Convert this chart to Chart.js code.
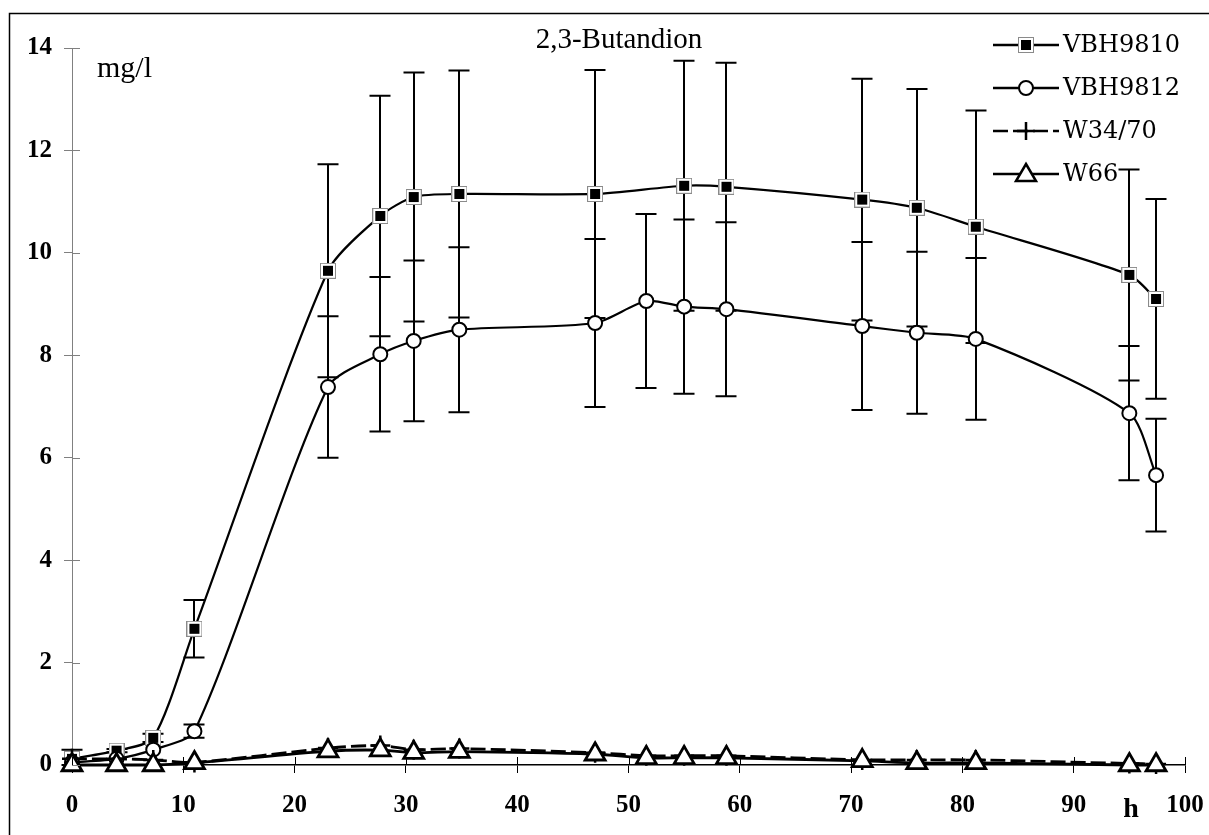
<!DOCTYPE html>
<html>
<head>
<meta charset="utf-8">
<script src="https://cdn.jsdelivr.net/npm/chart.js@4/dist/chart.umd.min.js"></script>
<style>
html,body{margin:0;padding:0;background:#fff;}
#wrap{width:1209px;height:835px;position:relative;}
</style>
</head>
<body>
<div id="wrap"><canvas id="c" width="1209" height="835"></canvas></div>
<script>
// ---- data ----
const hours    = [0, 4, 7.3, 11, 23, 27.7, 30.7, 34.8, 47, 51.6, 55, 58.8, 71, 75.9, 81.2, 95, 97.4];
const vbh9810  = [0.12, 0.28, 0.53, 2.66, 9.65, 10.72, 11.09, 11.15, 11.15, null, 11.31, 11.29, 11.04, 10.88, 10.51, 9.57, 9.1];
const vbh9810Sd= [0.18, 0.03, 0.08, 0.56, 2.08, 2.35, 2.43, 2.41, 2.42, null, 2.44, 2.42, 2.36, 2.32, 2.27, 2.06, 1.95];
const vbh9812  = [0.05, 0.12, 0.3, 0.66, 7.38, 8.02, 8.28, 8.5, 8.63, 9.06, 8.95, 8.9, 8.57, 8.44, 8.32, 6.87, 5.66];
const vbh9812Sd= [0, 0, 0, 0.13, 1.38, 1.51, 1.57, 1.61, 1.64, 1.7, 1.7, 1.7, 1.64, 1.58, 1.58, 1.31, 1.1];
const w3470    = [0.12, 0.12, 0.1, 0.05, 0.33, 0.38, 0.3, 0.32, 0.24, 0.18, 0.18, 0.18, 0.1, 0.1, 0.1, 0.03, 0.02];
const w66      = [0, 0, 0, 0.04, 0.27, 0.29, 0.24, 0.26, 0.21, 0.14, 0.14, 0.14, 0.08, 0.04, 0.04, 0, 0];
const seriesNames = ['VBH9810', 'VBH9812', 'W34/70', 'W66'];
const yTicks = [0, 2, 4, 6, 8, 10, 12, 14];
const xTicks = [0, 10, 20, 30, 40, 50, 60, 70, 80, 90, 100];
const chartTitle = '2,3-Butandion';
const yUnit = 'mg/l';
const xUnit = 'h';

// ---- square marker image ----
const sq = document.createElement('canvas');
sq.width = 16; sq.height = 16;
(function(){
  const g = sq.getContext('2d');
  g.fillStyle = '#8a8a8a'; g.fillRect(0,0,16,16);
  g.fillStyle = '#ffffff'; g.fillRect(1,1,14,14);
  g.fillStyle = '#000000'; g.fillRect(3,3,10,10);
})();

const pts = arr => hours.map((h,i) => ({x: h, y: arr[i]}));

const SERIF = '"Liberation Serif", "DejaVu Serif", serif';
const LEG = '"DejaVu Serif", serif';

const decor = {
  id: 'decor',
  beforeDatasetsDraw(chart) {
    const {ctx, scales: {x, y}} = chart;
    ctx.save();
    ctx.strokeStyle = '#000';
    ctx.lineWidth = 2;
    const sets = [[vbh9810, vbh9810Sd], [vbh9812, vbh9812Sd]];
    sets.forEach(([vals, sds]) => {
      hours.forEach((h, i) => {
        if (vals[i] == null || !sds[i]) return;
        const px = Math.round(x.getPixelForValue(h));
        const yt = y.getPixelForValue(vals[i] + sds[i]);
        const yb = y.getPixelForValue(Math.max(0, vals[i] - sds[i]));
        ctx.beginPath();
        ctx.moveTo(px, yt); ctx.lineTo(px, yb);
        ctx.moveTo(px - 10.5, yt); ctx.lineTo(px + 10.5, yt);
        ctx.moveTo(px - 10.5, yb); ctx.lineTo(px + 10.5, yb);
        ctx.stroke();
      });
    });
    ctx.restore();
  },
  afterDraw(chart) {
    const {ctx, scales: {x, y}, chartArea} = chart;
    ctx.save();
    // outer frame
    ctx.strokeStyle = '#000';
    ctx.lineWidth = 1.5;
    ctx.beginPath();
    ctx.moveTo(9.5, 835); ctx.lineTo(9.5, 13.5); ctx.lineTo(1209, 13.5);
    ctx.stroke();
    // inner halves of the axis ticks
    ctx.lineWidth = 1;
    ctx.strokeStyle = '#808080';
    yTicks.forEach(v => {
      const py = Math.round(y.getPixelForValue(v)) + 0.5;
      ctx.beginPath(); ctx.moveTo(chartArea.left, py); ctx.lineTo(chartArea.left + 8, py); ctx.stroke();
    });
    ctx.strokeStyle = '#000';
    xTicks.forEach(v => {
      const px = Math.round(x.getPixelForValue(v)) + 0.5;
      ctx.beginPath(); ctx.moveTo(px, chartArea.bottom); ctx.lineTo(px, chartArea.bottom - 8); ctx.stroke();
    });
    // texts
    ctx.fillStyle = '#000';
    ctx.textBaseline = 'alphabetic';
    ctx.font = '29px ' + SERIF;
    ctx.textAlign = 'center';
    ctx.fillText(chartTitle, 619, 48);
    ctx.textAlign = 'left';
    ctx.font = '30px ' + SERIF;
    ctx.fillText(yUnit, 97, 77);
    ctx.textAlign = 'center';
    ctx.font = 'bold 28px ' + SERIF;
    ctx.fillText(xUnit, 1131, 817);
    // legend
    const legY = [45, 88, 131, 174];
    chart.data.datasets.forEach((ds, i) => {
      const ly = legY[i];
      ctx.strokeStyle = '#000';
      ctx.lineWidth = 2.5;
      ctx.setLineDash(ds.borderDash || []);
      ctx.beginPath(); ctx.moveTo(993, ly); ctx.lineTo(1059, ly); ctx.stroke();
      ctx.setLineDash([]);
      const mx = 1026;
      if (ds.pointStyle === sq) {
        ctx.drawImage(sq, mx - 8, ly - 8);
      } else if (ds.pointStyle === 'circle') {
        ctx.lineWidth = 2; ctx.fillStyle = '#fff';
        ctx.beginPath(); ctx.arc(mx, ly, 7, 0, Math.PI * 2); ctx.fill(); ctx.stroke();
      } else if (ds.pointStyle === 'cross') {
        ctx.lineWidth = 2.5;
        ctx.beginPath(); ctx.moveTo(mx - 9, ly); ctx.lineTo(mx + 9, ly);
        ctx.moveTo(mx, ly - 9); ctx.lineTo(mx, ly + 9); ctx.stroke();
      } else if (ds.pointStyle === 'triangle') {
        ctx.lineWidth = 2.5; ctx.fillStyle = '#fff';
        ctx.beginPath(); ctx.moveTo(mx, ly - 10); ctx.lineTo(mx + 10, ly + 7); ctx.lineTo(mx - 10, ly + 7); ctx.closePath();
        ctx.fill(); ctx.stroke();
      }
      ctx.fillStyle = '#000';
      ctx.font = '24px ' + LEG;
      ctx.textAlign = 'left';
      ctx.textBaseline = 'middle';
      ctx.fillText(ds.label, 1063, ly + 1);
    });
    ctx.restore();
  }
};

new Chart(document.getElementById('c'), {
  type: 'line',
  data: {
    datasets: [
      { label: seriesNames[0], data: pts(vbh9810), borderColor: '#000', borderWidth: 2.2, tension: 0.25,
        pointStyle: sq, pointRadius: 8, spanGaps: true, order: 3, clip: false },
      { label: seriesNames[1], data: pts(vbh9812), borderColor: '#000', borderWidth: 2.2, tension: 0.25,
        pointStyle: 'circle', pointRadius: 7, pointBackgroundColor: '#fff', pointBorderColor: '#000', pointBorderWidth: 2,
        order: 2, clip: false },
      { label: seriesNames[2], data: pts(w3470), borderColor: '#000', borderWidth: 2.8, borderDash: [15, 5], tension: 0.25,
        pointStyle: 'cross', pointRadius: 10, pointBorderColor: '#000', pointBorderWidth: 2.5, order: 1, clip: false },
      { label: seriesNames[3], data: pts(w66), borderColor: '#000', borderWidth: 2.8, tension: 0.25,
        pointStyle: 'triangle', pointRadius: 11.5, pointBackgroundColor: '#fff', pointBorderColor: '#000', pointBorderWidth: 2.8,
        order: 0, clip: false }
    ]
  },
  options: {
    responsive: false,
    animation: false,
    events: [],
    layout: { padding: { left: 0, top: 48, right: 24, bottom: 0 } },
    plugins: { legend: { display: false }, title: { display: false }, tooltip: { enabled: false } },
    scales: {
      x: {
        type: 'linear', min: 0, max: 100,
        afterFit: s => { s.height = 70; s.paddingLeft = 0; s.paddingRight = 0; },
        afterBuildTicks: s => { s.ticks = xTicks.map(v => ({ value: v })); },
        border: { display: true, color: '#000', width: 1.5 },
        grid: { display: true, drawOnChartArea: false, drawTicks: true, tickLength: 8, color: '#000', tickColor: '#000' },
        ticks: { color: '#000', padding: 18, font: { family: SERIF, size: 25, weight: 'bold' }, maxRotation: 0, autoSkip: false }
      },
      y: {
        type: 'linear', min: 0, max: 14,
        afterFit: s => { s.width = 72; s.paddingTop = 0; s.paddingBottom = 0; },
        afterBuildTicks: s => { s.ticks = yTicks.map(v => ({ value: v })); },
        border: { display: true, color: '#808080', width: 1 },
        grid: { display: true, drawOnChartArea: false, drawTicks: true, tickLength: 8, color: '#808080', tickColor: '#808080' },
        ticks: { color: '#000', padding: 12, font: { family: SERIF, size: 25, weight: 'bold' }, autoSkip: false }
      }
    }
  },
  plugins: [decor]
});
</script>
</body>
</html>
